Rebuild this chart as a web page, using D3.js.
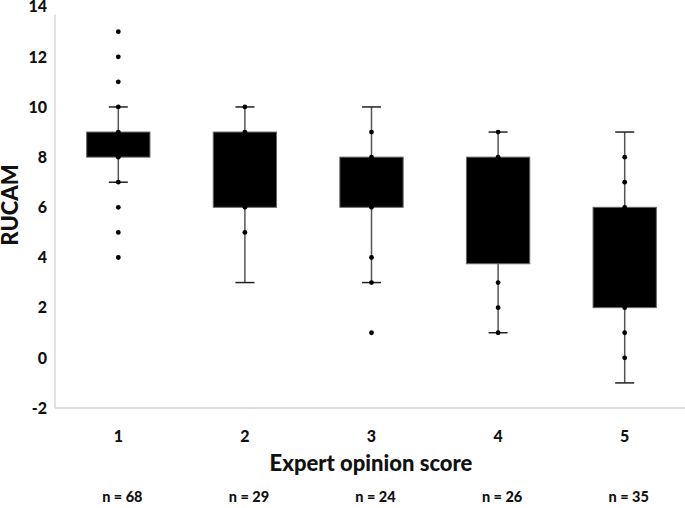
<!DOCTYPE html>
<html><head><meta charset="utf-8">
<script src="https://cdn.jsdelivr.net/npm/d3@7"></script>
<style>body{margin:0;background:#fff}svg{display:block}text{font-family:Lato,"Open Sans",sans-serif;font-weight:900;fill:#111}</style>
</head><body><div id="c"></div>
<script>
const categories = ["1","2","3","4","5"];
const q1 = [8, 6, 6, 3.75, 2];
const q3 = [9, 9, 8, 8, 6];
const whiskerLow = [7, 3, 3, 1, -1];
const whiskerHigh = [10, 10, 10, 9, 9];
const points = [
  [4,5,6,7,8,9,10,11,12,13],
  [5,6,9,10],
  [1,3,4,6,8,9],
  [1,2,3,8,9],
  [0,1,2,6,7,8]
];
const nLabels = ["n = 68","n = 29","n = 24","n = 26","n = 35"];
const yTicks = [-2,0,2,4,6,8,10,12,14];

const W=685,H=508;
const svg=d3.select("#c").append("svg").attr("width",W).attr("height",H);
const x=d3.scaleBand().domain(categories).range([55,688]);
const y=d3.scaleLinear().domain([-2,14]).range([408,6.6]);
const bw=x.bandwidth()*0.5, cw=19;

svg.append("line").attr("x1",55).attr("x2",55).attr("y1",y(14)+8).attr("y2",y(-2)).attr("stroke","#c8c8c8").attr("stroke-width",1);
svg.append("line").attr("x1",55).attr("x2",W).attr("y1",y(-2)).attr("y2",y(-2)).attr("stroke","#d0d0d0").attr("stroke-width",1.5);

svg.selectAll(".yt").data(yTicks).enter().append("text")
  .attr("x",47).attr("y",d=>y(d)).attr("dy","0.36em").attr("text-anchor","end")
  .style("font-size","16px").text(d=>d);

svg.selectAll(".xt").data(categories).enter().append("text")
  .attr("x",d=>x(d)+x.bandwidth()/2).attr("y",436).attr("dy","0.36em").attr("text-anchor","middle")
  .style("font-size","16px").text(d=>d);

const g=svg.selectAll(".box").data(categories).enter().append("g");
g.append("line").attr("x1",d=>x(d)+x.bandwidth()/2).attr("x2",d=>x(d)+x.bandwidth()/2)
  .attr("y1",(d,i)=>y(whiskerLow[i])).attr("y2",(d,i)=>y(whiskerHigh[i])).attr("stroke","#555").attr("stroke-width",1.5);
g.append("line").attr("x1",d=>x(d)+x.bandwidth()/2-cw/2).attr("x2",d=>x(d)+x.bandwidth()/2+cw/2)
  .attr("y1",(d,i)=>y(whiskerLow[i])).attr("y2",(d,i)=>y(whiskerLow[i])).attr("stroke","#222").attr("stroke-width",1.5);
g.append("line").attr("x1",d=>x(d)+x.bandwidth()/2-cw/2).attr("x2",d=>x(d)+x.bandwidth()/2+cw/2)
  .attr("y1",(d,i)=>y(whiskerHigh[i])).attr("y2",(d,i)=>y(whiskerHigh[i])).attr("stroke","#222").attr("stroke-width",1.5);
g.append("rect").attr("x",d=>x(d)+x.bandwidth()/2-bw/2).attr("width",bw)
  .attr("y",(d,i)=>y(q3[i])).attr("height",(d,i)=>y(q1[i])-y(q3[i]))
  .attr("fill","#000").attr("stroke","#666").attr("stroke-width",1);
g.each(function(d,i){
  d3.select(this).selectAll("circle").data(points[i]).enter().append("circle")
    .attr("cx",x(d)+x.bandwidth()/2).attr("cy",v=>y(v)).attr("r",2.4).attr("fill","#000");
});

svg.append("text").attr("transform","translate(18,205) rotate(-90)").attr("text-anchor","middle")
  .style("font-size","22px").text("RUCAM");
svg.append("text").attr("x",371).attr("y",471).attr("text-anchor","middle")
  .style("font-size","22px").text("Expert opinion score");

svg.selectAll(".nl").data(nLabels).enter().append("text")
  .attr("x",(d,i)=>x(categories[i])+x.bandwidth()/2+4).attr("y",497).attr("dy","0.36em").attr("text-anchor","middle")
  .style("font-size","14.5px").text(d=>d);
</script></body></html>
